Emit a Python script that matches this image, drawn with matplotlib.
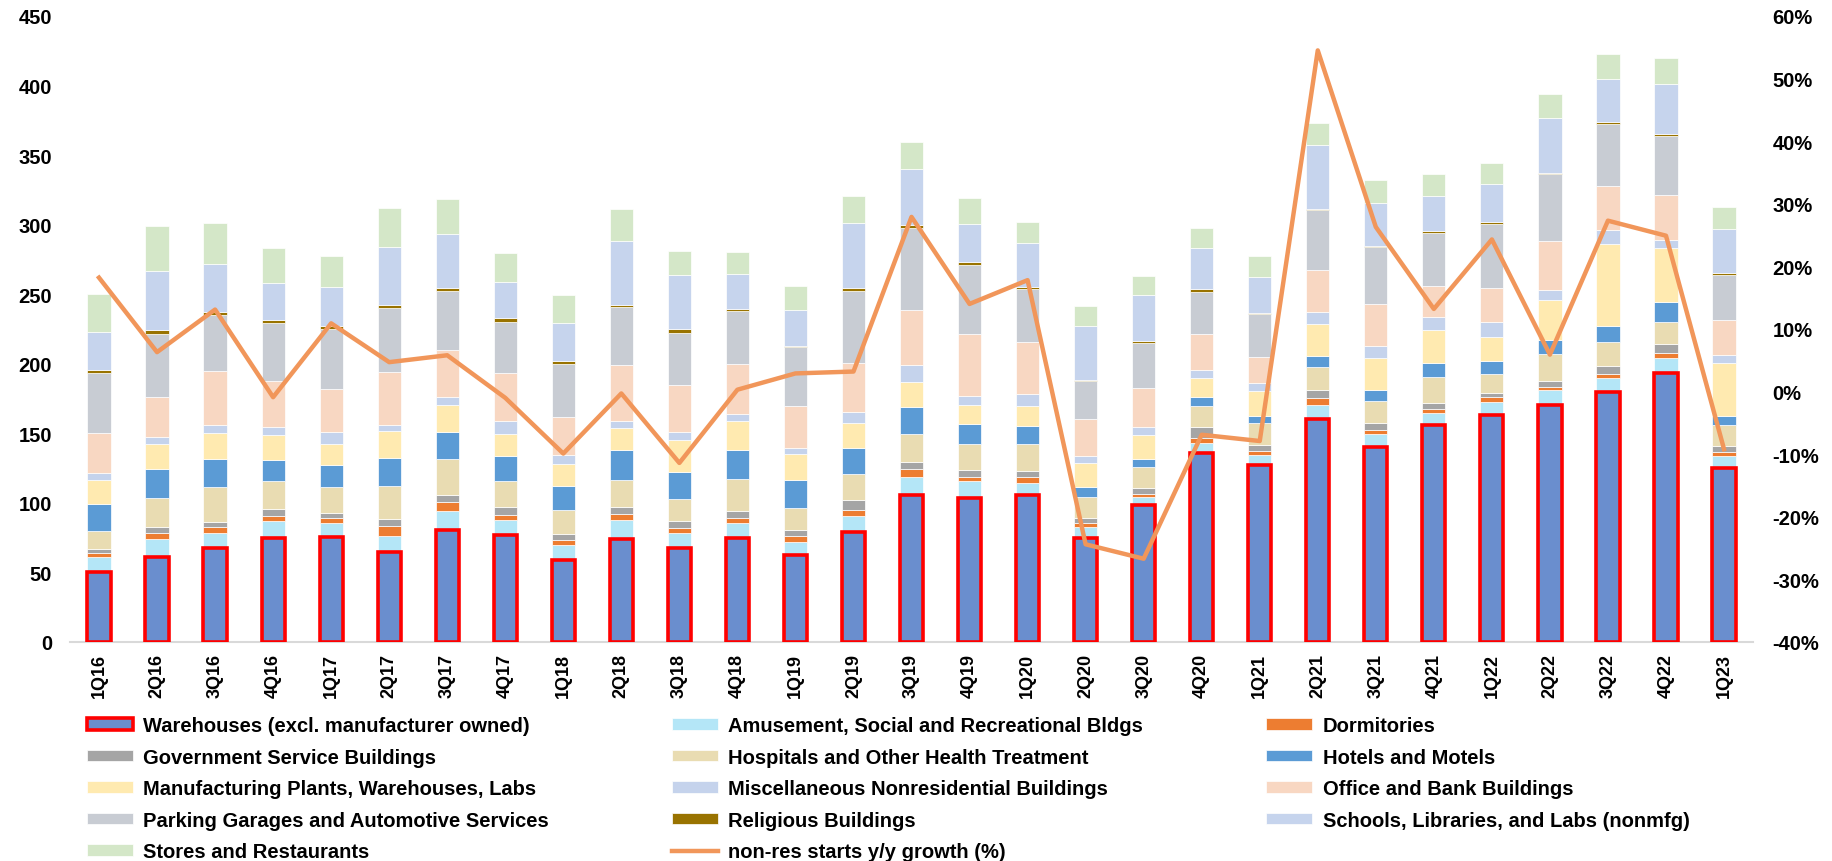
import matplotlib
matplotlib.use("Agg")
import matplotlib.pyplot as plt
import numpy as np
from matplotlib.ticker import FuncFormatter

plt.rcParams["font.family"] = ["Liberation Sans", "DejaVu Sans"]
plt.rcParams["font.weight"] = "bold"

quarters = ["1Q16", "2Q16", "3Q16", "4Q16", "1Q17", "2Q17", "3Q17", "4Q17",
            "1Q18", "2Q18", "3Q18", "4Q18", "1Q19", "2Q19", "3Q19", "4Q19",
            "1Q20", "2Q20", "3Q20", "4Q20", "1Q21", "2Q21", "3Q21", "4Q21",
            "1Q22", "2Q22", "3Q22", "4Q22", "1Q23"]

# starts by building type, stacked bottom to top
warehouses = [50.6, 61.2, 67.3, 74.5, 75.5, 64.8, 80.3, 77.0, 59.1, 74.2, 67.9, 74.5, 62.4, 78.8,
              105.8, 103.3, 105.8, 74.8, 98.2, 135.5, 127.3, 160.6, 140.0, 156.1, 163.3, 170.3,
              179.7, 193.3, 124.8]
amusement = [10.3, 13.0, 10.9, 12.4, 10.0, 11.5, 14.2, 10.9, 10.6, 13.7, 10.6, 11.2, 9.4, 11.5,
             12.7, 12.5, 8.4, 8.2, 6.3, 7.2, 7.2, 9.4, 9.7, 8.4, 9.4, 10.6, 10.3, 10.9, 8.8]
dormitories = [3.0, 4.3, 4.8, 3.6, 3.6, 7.3, 5.8, 3.6, 3.6, 3.9, 3.3, 3.6, 4.2, 4.5,
               5.7, 3.0, 4.3, 2.2, 1.9, 4.0, 3.1, 5.2, 2.7, 3.1, 3.1, 2.4, 2.7, 3.4, 3.1]
government = [2.7, 4.5, 3.3, 5.2, 3.3, 4.8, 5.5, 5.5, 4.0, 5.5, 5.2, 5.2, 4.2, 7.3,
              5.2, 4.8, 4.2, 3.9, 4.2, 7.8, 3.9, 5.7, 4.9, 3.9, 3.3, 4.6, 5.5, 6.6, 3.9]
hospitals = [13.3, 20.3, 25.1, 20.0, 18.8, 23.6, 25.4, 18.8, 17.9, 19.4, 16.0, 23.0, 16.4, 18.8,
             20.3, 18.8, 19.7, 15.1, 15.2, 15.2, 16.1, 17.0, 16.0, 19.1, 13.6, 19.4, 17.6, 16.1, 15.2]
hotels = [19.4, 21.0, 20.3, 15.4, 15.8, 20.3, 19.7, 18.1, 16.9, 21.5, 19.1, 20.6, 19.7, 18.5,
          19.4, 14.6, 13.1, 7.3, 5.7, 6.1, 4.5, 7.9, 7.9, 9.7, 9.4, 10.0, 11.5, 13.9, 6.6]
manufacturing = [17.0, 18.2, 18.5, 17.9, 15.4, 19.7, 19.4, 15.5, 16.1, 15.4, 23.0, 20.6, 18.8, 18.2,
                 17.9, 13.0, 14.2, 17.3, 17.6, 14.2, 18.5, 22.7, 23.0, 24.2, 17.0, 28.2, 58.5, 38.8, 37.9]
misc_nonres = [5.4, 4.9, 5.5, 5.7, 8.5, 3.9, 6.1, 9.4, 6.3, 5.5, 5.8, 5.5, 4.2, 7.6,
               12.4, 6.7, 8.2, 4.8, 5.4, 5.5, 5.5, 8.8, 8.8, 8.8, 10.6, 7.8, 10.3, 6.1, 6.1]
office = [28.5, 28.5, 38.8, 32.8, 31.2, 38.5, 33.3, 34.5, 27.3, 40.0, 33.6, 35.8, 30.6, 35.4,
          39.1, 44.8, 37.9, 27.0, 27.9, 26.0, 18.4, 30.0, 30.0, 22.5, 24.5, 34.6, 31.5, 32.4, 24.8]
parking = [43.0, 45.7, 40.3, 41.8, 43.0, 45.5, 42.4, 36.7, 38.2, 41.8, 37.9, 37.9, 41.8, 51.8,
           59.1, 49.7, 37.8, 26.7, 32.4, 30.3, 31.0, 43.0, 40.6, 38.1, 46.4, 48.2, 44.8, 42.1, 32.7]
religious = [2.2, 2.7, 2.7, 2.4, 2.1, 2.4, 2.4, 2.7, 2.1, 1.5, 2.7, 1.5, 1.2, 1.8,
             2.4, 2.1, 1.6, 1.2, 1.2, 1.8, 1.2, 1.2, 1.2, 1.3, 1.2, 1.2, 1.5, 1.9, 1.3]
schools = [27.5, 42.1, 34.2, 26.7, 27.9, 41.8, 39.1, 25.8, 27.0, 45.8, 38.8, 25.2, 25.8, 47.3,
           40.0, 27.3, 31.8, 38.5, 33.7, 29.7, 26.0, 45.8, 30.7, 25.4, 27.3, 39.7, 30.6, 35.4, 31.5]
stores = [27.6, 32.7, 29.4, 24.5, 22.4, 27.9, 24.9, 21.2, 20.6, 23.3, 17.3, 15.8, 17.3, 19.1,
          19.7, 18.8, 15.1, 14.5, 13.6, 14.0, 14.6, 15.7, 16.6, 15.5, 15.4, 17.2, 18.2, 18.8, 16.3]

# y/y growth of total non-res starts, in %
growth = [18.2, 6.3, 13.1, -0.9, 10.9, 4.7, 5.8, -1.0, -9.9, -0.3, -11.4, 0.3, 2.9, 3.2,
          27.9, 14.0, 17.8, -24.4, -26.7, -6.9, -7.9, 54.5, 26.3, 13.2, 24.3, 5.9, 27.3, 24.9, -9.2]

segments = [
    ("Amusement, Social and Recreational Bldgs", amusement, "#B4E6F7"),
    ("Dormitories", dormitories, "#ED7D31"),
    ("Government Service Buildings", government, "#A5A5A5"),
    ("Hospitals and Other Health Treatment", hospitals, "#E9DCB2"),
    ("Hotels and Motels", hotels, "#5B9BD5"),
    ("Manufacturing Plants, Warehouses, Labs", manufacturing, "#FFEAB0"),
    ("Miscellaneous Nonresidential Buildings", misc_nonres, "#C5D3EC"),
    ("Office and Bank Buildings", office, "#F8D7C2"),
    ("Parking Garages and Automotive Services", parking, "#C8CCD3"),
    ("Religious Buildings", religious, "#997300"),
    ("Schools, Libraries, and Labs (nonmfg)", schools, "#C6D4ED"),
    ("Stores and Restaurants", stores, "#D4E7C8"),
]

x = np.arange(len(quarters))
width = 0.4

fig = plt.figure(figsize=(18.32, 8.62), dpi=100)
ax = fig.add_axes([0.0382, 0.2541, 0.9187, 0.7262])

handles = {}
handles["Warehouses (excl. manufacturer owned)"] = ax.bar(
    x, warehouses, width, color="#6A8ECE", edgecolor="#FF0000", linewidth=2.6,
    label="Warehouses (excl. manufacturer owned)", zorder=3)

bottom = np.array(warehouses, dtype=float)
for name, vals, col in segments:
    handles[name] = ax.bar(x, vals, width, bottom=bottom, color=col,
                           edgecolor="white", linewidth=0.5, label=name, zorder=2)
    bottom += np.array(vals)

ax.set_xlim(-0.5, 28.5)
ax.set_ylim(0, 450)
ax.set_yticks(np.arange(0, 451, 50))
ax.set_xticks(x)
ax.set_xticklabels(quarters, rotation=90, fontsize=13, fontweight="bold")
ax.tick_params(axis="y", length=0, pad=13, labelsize=14.5)
ax.tick_params(axis="x", length=0, pad=8)
for s in ["top", "right", "left"]:
    ax.spines[s].set_visible(False)
ax.spines["bottom"].set_color("#D9D9D9")
ax.spines["bottom"].set_linewidth(1.5)

ax2 = ax.twinx()
line, = ax2.plot(x, growth, color="#F1965A", linewidth=3.2,
                 label="non-res starts y/y growth (%)", zorder=5)
ax2.set_ylim(-40, 60)
ax2.set_yticks(np.arange(-40, 61, 10))
ax2.yaxis.set_major_formatter(FuncFormatter(lambda v, p: f"{v:.0f}%"))
ax2.tick_params(axis="y", length=0, pad=14, labelsize=14.5)
for s in ["top", "right", "left", "bottom"]:
    ax2.spines[s].set_visible(False)

# legend filled column by column so it reads row-wise like the bar order
order = [
    "Warehouses (excl. manufacturer owned)", "Government Service Buildings",
    "Manufacturing Plants, Warehouses, Labs", "Parking Garages and Automotive Services",
    "Stores and Restaurants",
    "Amusement, Social and Recreational Bldgs", "Hospitals and Other Health Treatment",
    "Miscellaneous Nonresidential Buildings", "Religious Buildings", None,
    "Dormitories", "Hotels and Motels", "Office and Bank Buildings",
    "Schools, Libraries, and Labs (nonmfg)",
]
leg_handles = [line if k is None else handles[k] for k in order]
leg_labels = [line.get_label() if k is None else k for k in order]
fig.legend(leg_handles, leg_labels, ncol=3, loc="upper left",
           bbox_to_anchor=(0.0475, 0.168), frameon=False,
           prop={"size": 14.5, "weight": "bold"},
           handlelength=2.3, handleheight=0.5, handletextpad=0.5,
           columnspacing=6.1, labelspacing=0.62, borderpad=0, borderaxespad=0)

fig.savefig("out.png", dpi=100)
plt.close(fig)
